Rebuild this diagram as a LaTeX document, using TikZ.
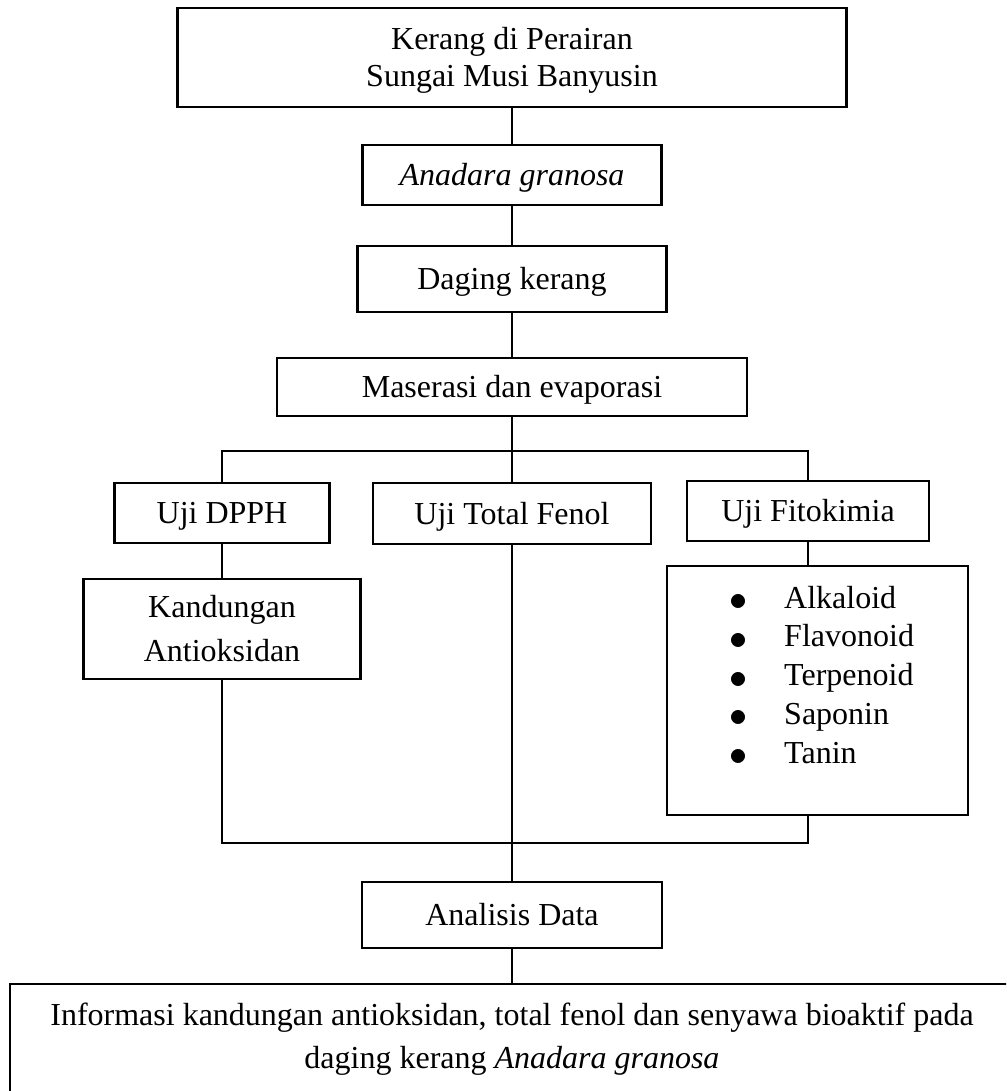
\documentclass[tikz,border=0pt]{standalone}
\usepackage{fontspec}
\setmainfont{Liberation Serif}
\usetikzlibrary{positioning,calc}
\newcommand{\tiang}{\rule[-7.5pt]{0pt}{36.2pt}}

\begin{document}
\begin{tikzpicture}[x=1pt,y=-1pt,
    kotak/.style={draw,line width=2.2pt,inner sep=0pt,align=center,
      font=\fontsize{32}{37}\selectfont},
    garis/.style={line width=1.8pt},
    cabang/.style={line width=2.6pt,line cap=rect}]
    % Page frame first; the last box runs past the lower and right edges.
    \useasboundingbox (0,0) rectangle (1006,1091);
    \clip (0,0) rectangle (1006,1091);

    \node[kotak,minimum width=669,minimum height=99] (asal) at (512,57.5)
      {\tiang Kerang di Perairan\\ Sungai Musi Banyusin\tiang};
    \node[kotak,minimum width=299,minimum height=60] (spesies) at (512,175)
      {\tiang\textit{Anadara granosa}};
    \node[kotak,minimum width=309,minimum height=66] (daging) at (512,279)
      {\tiang Daging kerang};
    \node[kotak,minimum width=470,minimum height=58] (maserasi) at (512,387)
      {\tiang Maserasi dan evaporasi};

    \node[kotak,minimum width=215,minimum height=60] (dpph) at (222,513)
      {\tiang Uji DPPH};
    \node[kotak,minimum width=278,minimum height=61] (fenol) at (512,513.5)
      {\tiang Uji Total Fenol};
    \node[kotak,minimum width=242,minimum height=60] (fito) at (808,511)
      {\tiang Uji Fitokimia};

    \node[kotak,minimum width=277,minimum height=100,
          font=\fontsize{32}{44}\selectfont] (kandungan) at (222,629)
      {\tiang Kandungan\\ Antioksidan\tiang};
    \node[kotak,minimum width=301,minimum height=249] (senyawa) at (817.5,690.5) {};
    \foreach \i/\lab in {0/Alkaloid,1/Flavonoid,2/Terpenoid,3/Saponin,4/Tanin} {
      \node[anchor=base west,inner sep=0pt,font=\fontsize{32}{37}\selectfont]
        (item\i) at (729,608+38.8*\i)
        {\makebox[55pt][l]{\raisebox{-2.5pt}{\scalebox{1.45}{$\bullet$}}}\lab};
    }

    \node[kotak,minimum width=300,minimum height=66] (analisis) at (512,915)
      {\tiang Analisis Data};
    \node[kotak,minimum width=1004,minimum height=116,
          font=\fontsize{32}{43}\selectfont] (info) at (512,1042)
      {\tiang Informasi kandungan antioksidan, total fenol dan senyawa bioaktif pada\\
       daging kerang \textit{Anadara granosa}\rule[-19pt]{0pt}{19pt}};

    \coordinate (pisahL) at (222,451);
    \coordinate (pisahR) at (808,451);
    \coordinate (gabungL) at (222,843);
    \coordinate (gabungR) at (808,843);

    \draw[garis] (asal) -- (spesies) -- (daging) -- (maserasi);
    \draw[garis] (maserasi) -- (fenol);
    \draw[cabang] (pisahL) -- (pisahR);
    \draw[garis] (pisahL) -- (dpph);
    \draw[garis] (pisahR) -- (fito);
    \draw[garis] (dpph) -- (kandungan);
    \draw[garis] (kandungan) -- (gabungL);
    \draw[garis] (fito) -- (fito.south |- senyawa.north);
    \draw[garis] (senyawa.south -| fito) -- (gabungR);
    \draw[cabang] (gabungL) -- (gabungR);
    \draw[garis] (fenol) -- (analisis);
    \draw[garis] (analisis) -- (info);
  \end{tikzpicture}
\end{document}
